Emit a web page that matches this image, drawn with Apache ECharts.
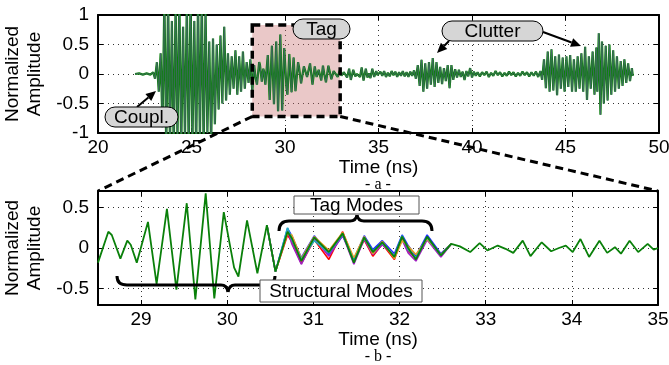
<!DOCTYPE html>
<html><head><meta charset="utf-8">
<script src="https://cdn.jsdelivr.net/npm/echarts@6/dist/echarts.min.js"></script>
<style>html,body{margin:0;padding:0;background:#fff}#c{width:669px;height:365px}</style>
</head><body><div id="c"></div>
<script>
// ---------- tick labels ----------
const topTicksX = [20, 25, 30, 35, 40, 45, 50];
const topTicksY = [-1, -0.5, 0, 0.5, 1];
const botTicksX = [29, 30, 31, 32, 33, 34, 35];
const botTicksY = [-0.5, 0, 0.5];

// ---------- full signal, early part (ns, amplitude) ----------
const earlyT = [21.98, 22.2, 22.4, 22.6, 22.8, 22.95, 23.05, 23.15, 23.25, 23.35, 23.45, 23.55, 23.65, 23.75, 23.85, 23.95, 24.05, 24.15, 24.25, 24.35, 24.45, 24.55, 24.65, 24.75, 24.85, 24.95, 25.05, 25.15, 25.25, 25.35, 25.45, 25.55, 25.65, 25.75, 25.85, 25.95, 26.05, 26.15, 26.25, 26.35, 26.45, 26.55, 26.65, 26.75, 26.85, 26.95, 27.05, 27.15, 27.25, 27.35, 27.45, 27.55, 27.65, 27.75, 27.85, 27.95, 28.05, 28.15, 28.25, 28.35, 28.42];
const earlyV = [0, 0.01, -0.01, 0.01, -0.01, 0.03, -0.08, 0.2, -0.3, 0.35, -0.9, 1.3, -1.3, 1.3, -1.2, 0.9, -1.3, 1.2, -1.1, 1.3, -1.3, 0.8, -1.1, 1.2, -1.3, 1.3, -1.2, 0.9, -1.3, 1.25, -1.1, 1.3, -1.3, 1.1, -1.0, 0.55, -1.2, 0.6, -0.85, 0.5, -0.6, 0.65, -0.5, 0.8, -0.45, 0.35, -0.35, 0.3, -0.25, 0.4, -0.35, 0.3, -0.3, 0.38, -0.25, 0.2, -0.15, 0.25, -0.3, 0.15, -0.05];

// ---------- zoomed window (28.5 - 35 ns), main trace ----------
const zoomT = [28.50, 28.62, 28.66, 28.76, 28.84, 28.88, 28.95, 29.08, 29.18, 29.30, 29.41, 29.53, 29.63, 29.75, 29.85, 29.96, 30.08, 30.13, 30.23, 30.35, 30.46, 30.56, 30.70, 30.75, 30.86, 31.01, 31.18, 31.34, 31.47, 31.59, 31.69, 31.80, 31.94, 32.03, 32.10, 32.19, 32.32, 32.48, 32.60, 32.70, 32.82, 32.93, 33.02, 33.14, 33.23, 33.32, 33.43, 33.52, 33.65, 33.76, 33.85, 33.93, 34.01, 34.10, 34.20, 34.32, 34.41, 34.50, 34.57, 34.67, 34.77, 34.88, 34.95, 35.00];
const zoomV = [-0.18, 0.20, 0.16, -0.13, 0.09, 0.04, -0.18, 0.32, -0.44, 0.48, -0.51, 0.55, -0.63, 0.67, -0.62, 0.44, -0.24, -0.35, 0.34, -0.31, 0.28, -0.29, 0.20, 0.12, -0.16, 0.13, -0.05, 0.18, -0.18, 0.13, -0.05, 0.07, -0.11, 0.14, 0.00, -0.14, 0.14, -0.09, 0.05, 0.02, -0.05, 0.06, -0.03, 0.03, -0.01, -0.06, 0.09, -0.10, 0.07, -0.04, 0.00, 0.03, -0.05, 0.11, -0.11, 0.09, -0.06, 0.01, -0.07, 0.09, -0.05, 0.05, -0.02, 0.00];

// ---------- tag-mode region, other traces ----------
const tagT      = [30.46, 30.56, 30.70, 30.75, 30.86, 31.01, 31.18, 31.34, 31.47, 31.59, 31.69, 31.80, 31.94, 32.03, 32.10, 32.19, 32.32, 32.48, 32.60];
const tagRed    = [0.28, -0.29, 0.16, 0.08, -0.19, 0.10, -0.14, 0.20, -0.15, 0.10, -0.10, 0.05, -0.14, 0.12, -0.04, -0.12, 0.12, -0.10, 0.05];
const tagBlue   = [0.28, -0.29, 0.24, 0.15, -0.12, 0.15, -0.08, 0.15, -0.14, 0.15, -0.02, 0.09, -0.07, 0.16, 0.03, -0.10, 0.16, -0.07, 0.05];
const tagPurple = [0.28, -0.29, 0.22, 0.05, -0.20, 0.12, -0.10, 0.16, -0.20, 0.11, -0.08, 0.04, -0.09, 0.10, -0.06, -0.16, 0.10, -0.11, 0.05];
const tagOrange = [0.28, -0.29, 0.18, 0.16, -0.13, 0.14, -0.03, 0.19, -0.12, 0.14, -0.07, 0.08, -0.13, 0.09, 0.02, -0.08, 0.11, -0.08, 0.05];
const tagCyan   = [0.28, -0.29, 0.25, 0.10, -0.14, 0.09, -0.06, 0.17, -0.16, 0.12, -0.04, 0.06, -0.10, 0.15, -0.02, -0.12, 0.13, -0.09, 0.05];

// ---------- full signal, late part ----------
const lateT = [35.1, 35.2, 35.3, 35.4, 35.5, 35.6, 35.7, 35.8, 35.9, 36.0, 36.1, 36.2, 36.3, 36.4, 36.5, 36.6, 36.7, 36.8, 36.9, 37.0, 37.1, 37.2, 37.3, 37.4, 37.5, 37.6, 37.7, 37.8, 37.9, 38.0, 38.1, 38.2, 38.3, 38.4, 38.5, 38.6, 38.7, 38.8, 38.9, 39.0, 39.1, 39.2, 39.3, 39.4, 39.5, 39.6, 39.7, 39.8, 39.9, 40.0, 40.1, 40.2, 40.3, 40.42, 40.54, 40.66, 40.78, 40.9, 41.02, 41.14, 41.26, 41.38, 41.5, 41.62, 41.74, 41.86, 41.98, 42.1, 42.22, 42.34, 42.46, 42.58, 42.7, 42.82, 42.94, 43.06, 43.18, 43.3, 43.42, 43.54, 43.66, 43.75, 43.85, 43.95, 44.05, 44.15, 44.25, 44.35, 44.45, 44.55, 44.65, 44.75, 44.85, 44.95, 45.05, 45.15, 45.25, 45.35, 45.45, 45.55, 45.65, 45.75, 45.85, 45.95, 46.05, 46.15, 46.25, 46.35, 46.45, 46.55, 46.65, 46.7, 46.78, 46.87, 46.95, 47.05, 47.15, 47.25, 47.35, 47.45, 47.55, 47.65, 47.75, 47.85, 47.95, 48.05, 48.15, 48.25, 48.35, 48.45, 48.55, 48.6];
const lateV = [0.04, -0.03, 0.05, -0.05, 0.02, -0.04, 0.05, -0.02, 0.04, -0.05, 0.03, -0.03, 0.05, -0.04, 0.03, -0.05, 0.04, -0.03, 0.06, -0.08, 0.15, -0.2, 0.24, -0.3, 0.18, -0.25, 0.2, -0.18, 0.27, -0.22, 0.2, -0.15, 0.12, -0.17, 0.1, -0.12, 0.15, -0.24, 0.15, -0.1, 0.08, -0.06, 0.07, -0.05, 0.04, -0.1, 0.05, -0.04, 0.1, -0.06, 0.04, -0.03, 0.03, -0.04, 0.03, -0.02, 0.04, -0.05, 0.02, -0.03, 0.05, -0.02, 0.03, -0.04, 0.02, -0.03, 0.04, -0.02, 0.03, -0.04, 0.02, -0.03, 0.04, -0.02, 0.03, -0.04, 0.03, -0.03, 0.04, -0.05, 0.05, -0.1, 0.25, -0.24, 0.38, -0.3, 0.42, -0.28, 0.3, -0.36, 0.33, -0.25, 0.28, -0.3, 0.3, -0.22, 0.32, -0.3, 0.25, -0.3, 0.3, -0.25, 0.35, -0.3, 0.46, -0.44, 0.3, -0.25, 0.38, -0.35, 0.45, -0.3, 0.69, -0.69, 0.55, -0.5, 0.48, -0.45, 0.5, -0.35, 0.4, -0.3, 0.3, -0.25, 0.22, -0.2, 0.25, -0.15, 0.18, -0.12, 0.1, -0.03];

// ---------- tag window marked on the full trace ----------
const tagBoxT = [28.25, 32.95];
const tagBoxV = [-0.72, 0.83];

const FONT = '"Liberation Sans", Arial, sans-serif';
const SERIF = '"Liberation Serif", "Times New Roman", serif';
const zip = (t, v) => t.map((x, i) => [x, v[i]]);
const fullT = earlyT.concat(zoomT, lateT);
const fullV = earlyV.concat(zoomV, lateV);

function xAxis(grid, min, max, ticks, pos, main) {
  return {
    gridIndex: grid, type: 'value', min, max, position: pos,
    axisLine: { show: true, onZero: false, lineStyle: { color: '#000', width: 2 } },
    axisTick: { show: true, inside: true, length: 5, customValues: ticks, lineStyle: { color: '#000', width: 1 } },
    axisLabel: { show: main, customValues: ticks, color: '#000', fontSize: 19, fontFamily: FONT, margin: 5 },
    splitLine: { show: main, lineStyle: { color: '#333', width: 1, type: [1, 4] } },
    name: main ? 'Time (ns)' : '', nameLocation: 'middle', nameGap: 23,
    nameTextStyle: { color: '#000', fontSize: 19, fontFamily: FONT }
  };
}
function yAxis(grid, min, max, ticks, pos, main) {
  return {
    gridIndex: grid, type: 'value', min, max, position: pos,
    axisLine: { show: true, onZero: false, lineStyle: { color: '#000', width: 2 } },
    axisTick: { show: true, inside: true, length: 5, customValues: ticks, lineStyle: { color: '#000', width: 1 } },
    axisLabel: { show: main, customValues: ticks, color: '#000', fontSize: 19, fontFamily: FONT, margin: 9 },
    splitLine: { show: main, lineStyle: { color: '#333', width: 1, type: [1, 4] } },
    name: main ? 'Normalized\nAmplitude' : '', nameLocation: 'middle', nameGap: 45, nameRotate: 90,
    nameTextStyle: { color: '#000', fontSize: 19, fontFamily: FONT, lineHeight: 22 }
  };
}
const lineS = (name, data, color, width, xi, yi, z) => ({
  name, type: 'line', data, xAxisIndex: xi, yAxisIndex: yi, showSymbol: false, symbol: 'none',
  lineStyle: { color, width }, clip: true, z, animation: false, silent: true
});

const chart = echarts.init(document.getElementById('c'), null, { renderer: 'canvas' });
chart.setOption({
  animation: false,
  backgroundColor: '#fff',
  grid: [
    { left: 98, top: 15, width: 561, height: 118, outerBoundsMode: 'none', containLabel: false },
    { left: 98, top: 191, width: 560, height: 114, outerBoundsMode: 'none', containLabel: false }
  ],
  xAxis: [
    xAxis(0, 20, 50, topTicksX, 'bottom', true),
    xAxis(0, 20, 50, topTicksX, 'top', false),
    xAxis(1, 28.5, 35, botTicksX, 'bottom', true),
    xAxis(1, 28.5, 35, botTicksX, 'top', false)
  ],
  yAxis: [
    yAxis(0, -1, 1, topTicksY, 'left', true),
    yAxis(0, -1, 1, topTicksY, 'right', false),
    yAxis(1, -0.7, 0.7, botTicksY, 'left', true),
    yAxis(1, -0.7, 0.7, botTicksY, 'right', false)
  ],
  series: [
    Object.assign(lineS('full', zip(fullT, fullV), '#0a800a', 2.2, 0, 0, 3), {
      markArea: { silent: true, itemStyle: { color: 'rgba(200,110,110,0.38)' },
        data: [[{ coord: [tagBoxT[0], tagBoxV[1]] }, { coord: [tagBoxT[1], tagBoxV[0]] }]] }
    }),
    lineS('full-b', zip(fullT, fullV), '#4a6670', 0.8, 0, 0, 4),
    lineS('red', zip(tagT, tagRed), '#ff0000', 1.6, 2, 2, 3),
    lineS('blue', zip(tagT, tagBlue), '#2030ff', 1.6, 2, 2, 3),
    lineS('purple', zip(tagT, tagPurple), '#a020c0', 1.6, 2, 2, 3),
    lineS('orange', zip(tagT, tagOrange), '#e8a020', 1.6, 2, 2, 3),
    lineS('cyan', zip(tagT, tagCyan), '#20b0c0', 1.6, 2, 2, 3),
    lineS('zoom', zip(zoomT, zoomV), '#0a800a', 1.8, 2, 2, 4)
  ]
});

// ---------- annotations ----------
function arrow(x1, y1, x2, y2) {
  const a = Math.atan2(y2 - y1, x2 - x1), L = 10, W = 4.5;
  const bx = x2 - L * Math.cos(a), by = y2 - L * Math.sin(a);
  return [
    { type: 'line', z: 100, shape: { x1, y1, x2: bx, y2: by }, style: { stroke: '#000', lineWidth: 2 } },
    { type: 'polygon', z: 100, shape: { points: [[x2, y2], [bx + W * Math.sin(a), by - W * Math.cos(a)], [bx - W * Math.sin(a), by + W * Math.cos(a)]] }, style: { fill: '#000' } }
  ];
}
function pill(x, y, w, h, text) {
  return [
    { type: 'rect', z: 101, shape: { x, y, width: w, height: h, r: 10 }, style: { fill: '#d6d6d6', stroke: '#000', lineWidth: 1 } },
    { type: 'text', z: 102, style: { text, x: x + w / 2, y: y + h / 2 + 1, align: 'center', verticalAlign: 'middle', font: '19px ' + FONT, fill: '#000' } }
  ];
}
function box(x, y, w, h, text) {
  return [
    { type: 'rect', z: 101, shape: { x, y, width: w, height: h }, style: { fill: '#fff', stroke: '#555', lineWidth: 1 } },
    { type: 'text', z: 102, style: { text, x: x + w / 2, y: y + h / 2 + 1, align: 'center', verticalAlign: 'middle', font: '19px ' + FONT, fill: '#000' } }
  ];
}
// curly brace: xa..xb at height yb, ends at ye, tip at (xm, yt)
function brace(xa, xb, yb, ye, xm, yt) {
  const s = { stroke: '#000', lineWidth: 3, fill: null };
  const c = (x1, y1, cx, cy, x2, y2) => ({ type: 'bezierCurve', z: 100, shape: { x1, y1, x2, y2, cpx1: cx, cpy1: cy }, style: s });
  const l = (x1, y1, x2, y2) => ({ type: 'line', z: 100, shape: { x1, y1, x2, y2 }, style: s });
  return [
    c(xa, ye, xa, yb, xa + 10, yb), l(xa + 10, yb, xm - 7, yb),
    c(xm - 7, yb, xm - 1, yb, xm, yt), c(xm, yt, xm + 1, yb, xm + 7, yb),
    l(xm + 7, yb, xb - 10, yb), c(xb - 10, yb, xb, yb, xb, ye)
  ];
}
const p = (g, pt) => chart.convertToPixel({ gridIndex: g }, pt);
const tl = p(0, [tagBoxT[0], tagBoxV[1]]), br = p(0, [tagBoxT[1], tagBoxV[0]]);
const btl = p(1, [28.5, 0.7]), btr = p(1, [35, 0.7]);
const dash = [8, 5];
const g = [];
g.push({ type: 'rect', z: 90, shape: { x: tl[0], y: tl[1], width: br[0] - tl[0], height: br[1] - tl[1] }, style: { fill: null, stroke: '#000', lineWidth: 3.5, lineDash: dash } });
g.push({ type: 'line', z: 90, shape: { x1: tl[0], y1: br[1], x2: btl[0], y2: btl[1] }, style: { stroke: '#000', lineWidth: 3, lineDash: dash } });
g.push({ type: 'line', z: 90, shape: { x1: br[0], y1: br[1], x2: btr[0], y2: btr[1] }, style: { stroke: '#000', lineWidth: 3, lineDash: dash } });
g.push(...pill(293, 19, 57, 20, 'Tag'));
g.push(...pill(105, 107, 73, 20, 'Coupl.'));
g.push(...arrow(137, 107, 156, 91));
g.push(...pill(442, 21, 101, 20, 'Clutter'));
g.push(...arrow(449, 41, 437, 53));
g.push(...arrow(543, 32, 581, 46));
g.push(...box(294, 196, 125, 18, 'Tag Modes'));
g.push(...box(260, 280, 162, 22, 'Structural Modes'));
g.push(...brace(279, 432, 221, 231, 357, 215));
g.push(...brace(117, 275, 285, 276, 228, 292));
g.push({ type: 'text', z: 100, style: { text: '- a -', x: 378, y: 185, align: 'center', verticalAlign: 'middle', font: '16px ' + SERIF, fill: '#000' } });
g.push({ type: 'text', z: 100, style: { text: '- b -', x: 378, y: 357, align: 'center', verticalAlign: 'middle', font: '16px ' + SERIF, fill: '#000' } });
chart.setOption({ graphic: { elements: g } });
</script>
</body></html>
